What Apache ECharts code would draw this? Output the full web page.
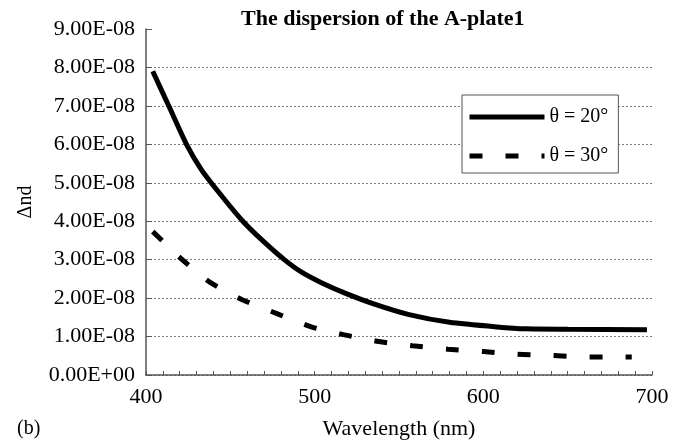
<!DOCTYPE html>
<html>
<head>
<meta charset="utf-8">
<script src="https://cdn.jsdelivr.net/npm/echarts@6/dist/echarts.min.js"></script>
<style>html,body{margin:0;padding:0;background:#fff}#c{width:690px;height:441px}</style>
</head>
<body>
<div id="c"></div>
<script>
const titleText = 'The dispersion of the A-plate1';
const seriesNames = ['θ = 20°', 'θ = 30°'];
const wl20 = [404, 414, 424, 433, 443, 457, 469, 482, 492, 504, 518, 535, 556, 580, 608, 625, 650, 697];
const dn20 = [7.90e-8, 6.95e-8, 6.00e-8, 5.33e-8, 4.76e-8, 4.02e-8, 3.50e-8, 3.00e-8, 2.68e-8, 2.40e-8, 2.13e-8, 1.85e-8, 1.57e-8, 1.37e-8, 1.25e-8, 1.20e-8, 1.19e-8, 1.18e-8];
const wl30 = [404, 422, 438, 457, 478, 498, 517, 538, 558, 579, 600, 620, 640, 661, 681, 688];
const dn30 = [3.73e-8, 2.98e-8, 2.41e-8, 1.96e-8, 1.59e-8, 1.25e-8, 1.05e-8, 0.87e-8, 0.76e-8, 0.67e-8, 0.61e-8, 0.54e-8, 0.51e-8, 0.47e-8, 0.47e-8, 0.47e-8];
const xTicks = [400, 500, 600, 700];
const yTickStep = 1e-8;
const yMax = 9e-8;

function fmtE(v) {
  if (Math.abs(v) < 1e-20) return '0.00E+00';
  const parts = v.toExponential(2).split('e');
  const n = parseInt(parts[1], 10);
  return parts[0] + 'E' + (n < 0 ? '-' : '+') + String(Math.abs(n)).padStart(2, '0');
}
const FONT = 'Liberation Serif';
const chart = echarts.init(document.getElementById('c'));
const gridColors = [];
for (let i = 0; i < 9; i++) gridColors.push('#7a7a7a');
gridColors.push('rgba(0,0,0,0)');

chart.setOption({
  animation: false,
  backgroundColor: '#fff',
  title: {
    text: titleText,
    left: 236, top: 3,
    textStyle: { fontFamily: FONT, fontSize: 22, fontWeight: 'bold', color: '#000' }
  },
  grid: { left: 146, right: 38, top: 29, bottom: 66, containLabel: false, outerBoundsMode: 'none' },
  legend: {
    orient: 'vertical',
    left: 462, top: 95,
    itemWidth: 75, itemHeight: 14, itemGap: 19,
    padding: [12, 10, 7, 5],
    borderColor: '#555', borderWidth: 1,
    backgroundColor: '#fff',
    textStyle: { fontFamily: FONT, fontSize: 20, color: '#000' },
    lineStyle: { width: 5 },
    itemStyle: { opacity: 0 },
    data: seriesNames
  },
  xAxis: {
    type: 'value', min: xTicks[0], max: xTicks[xTicks.length - 1], interval: 100,
    name: 'Wavelength (nm)', nameLocation: 'middle', nameGap: 43,
    nameTextStyle: { fontFamily: FONT, fontSize: 22, color: '#000' },
    axisLine: { lineStyle: { color: '#555', width: 1.5 } },
    axisTick: { show: true, inside: true, length: 4, lineStyle: { color: '#555' } },
    minorTick: { show: true, splitNumber: 10, length: 4, lineStyle: { color: '#555' } },
    axisLabel: { fontFamily: FONT, fontSize: 22, color: '#000', margin: 11 },
    splitLine: { show: false }
  },
  yAxis: {
    type: 'value', min: 0, max: yMax, interval: yTickStep,
    name: 'Δnd', nameLocation: 'middle', nameGap: 110, nameRotate: 90,
    nameTextStyle: { fontFamily: FONT, fontSize: 20, color: '#000' },
    axisLine: { show: true, lineStyle: { color: '#555', width: 1.5 } },
    axisTick: { show: true, inside: true, length: 6, lineStyle: { color: '#555' } },
    axisLabel: { fontFamily: FONT, fontSize: 22, color: '#000', margin: 11, formatter: fmtE },
    splitLine: { show: true, lineStyle: { color: gridColors, type: [2, 2], width: 1 } }
  },
  graphic: [{
    type: 'text', left: 17, top: 419,
    style: { text: '(b)', font: '20px "Liberation Serif"', fill: '#000' }
  }],
  series: [
    {
      name: seriesNames[0], type: 'line', symbol: 'none', showSymbol: false, smooth: 0.2,
      data: wl20.map((x, i) => [x, dn20[i]]),
      lineStyle: { color: '#000', width: 5, cap: 'butt' },
      itemStyle: { color: '#000' }
    },
    {
      name: seriesNames[1], type: 'line', symbol: 'none', showSymbol: false, smooth: 0.2,
      data: wl30.map((x, i) => [x, dn30[i]]),
      lineStyle: { color: '#000', width: 5, type: [13, 23], cap: 'butt' },
      itemStyle: { color: '#000' }
    }
  ]
});
</script>
</body>
</html>
